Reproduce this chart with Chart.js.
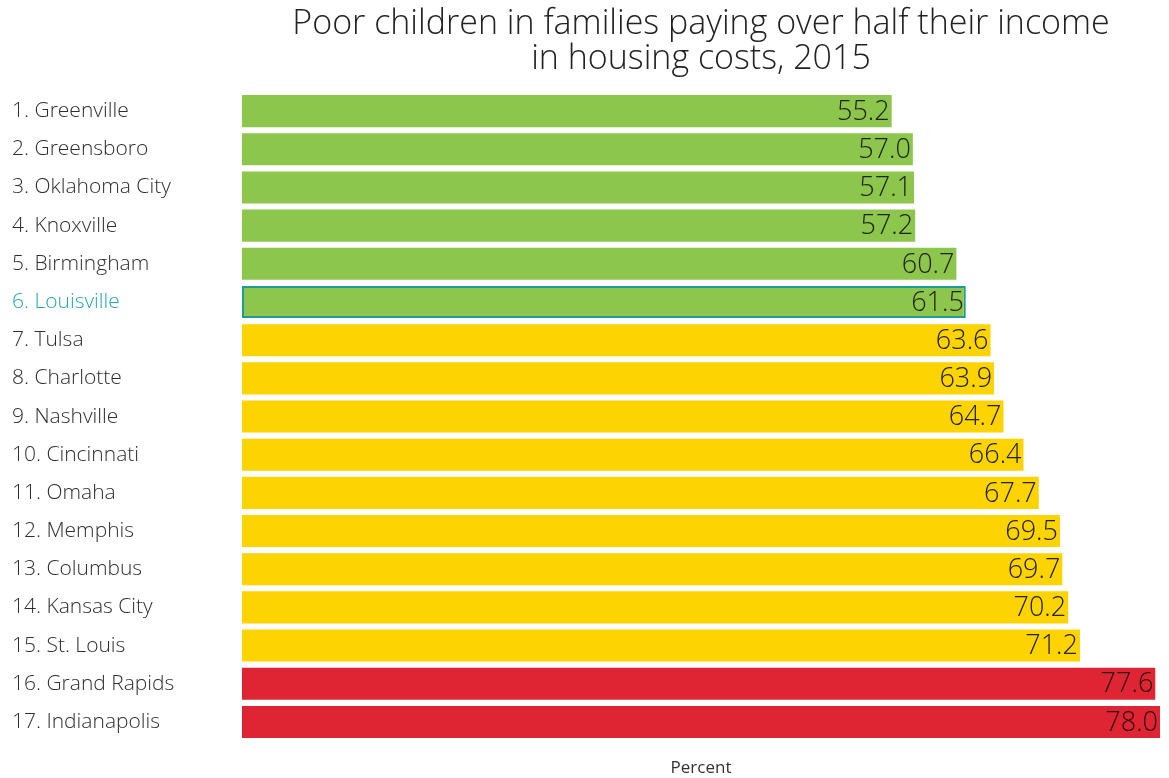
<!DOCTYPE html>
<html>
<head>
<meta charset="utf-8">
<title>Poor children housing costs</title>
<script src="https://cdn.jsdelivr.net/npm/chart.js@4/dist/chart.umd.min.js"></script>
<style>
  html, body { margin: 0; padding: 0; background: #fff; }
  #wrap { width: 1169px; height: 778px; position: relative; }
</style>
</head>
<body>
<div id="wrap"><canvas id="housingChart"></canvas></div>
<script>
// city ranking and share of poor children (percent)
const cities = [
  '1. Greenville', '2. Greensboro', '3. Oklahoma City', '4. Knoxville',
  '5. Birmingham', '6. Louisville', '7. Tulsa', '8. Charlotte',
  '9. Nashville', '10. Cincinnati', '11. Omaha', '12. Memphis',
  '13. Columbus', '14. Kansas City', '15. St. Louis', '16. Grand Rapids',
  '17. Indianapolis'
];
const percents = [55.2, 57.0, 57.1, 57.2, 60.7, 61.5, 63.6, 63.9, 64.7, 66.4, 67.7, 69.5, 69.7, 70.2, 71.2, 77.6, 78.0];
// tier of each city: g = green, y = yellow, r = red
const tiers = ['g', 'g', 'g', 'g', 'g', 'g', 'y', 'y', 'y', 'y', 'y', 'y', 'y', 'y', 'y', 'r', 'r'];
const highlightCity = '6. Louisville';

const tierColors = { g: '#8dc64c', y: '#fdd300', r: '#df2433' };
const teal = '#27a7b0';
const fontFamily = '"Open Sans", Lato, sans-serif';

// value labels drawn inside the bar end
const valueLabels = {
  id: 'valueLabels',
  afterDatasetsDraw(chart) {
    const ctx = chart.ctx;
    const meta = chart.getDatasetMeta(0);
    ctx.save();
    ctx.font = '300 27px ' + fontFamily;
    ctx.textAlign = 'right';
    ctx.textBaseline = 'middle';
    meta.data.forEach((bar, i) => {
      ctx.fillStyle = tiers[i] === 'r' ? '#2b0b0d' : '#222214';
      ctx.fillText(percents[i].toFixed(1), bar.x - 2, bar.y + 1);
    });
    ctx.restore();
  }
};

const ctx = document.getElementById('housingChart').getContext('2d');
const housingChart = new Chart(ctx, {
  type: 'bar',
  data: {
    labels: cities,
    datasets: [{
      data: percents,
      backgroundColor: tiers.map(t => tierColors[t]),
      borderColor: cities.map(c => c === highlightCity ? '#1f9a9a' : 'rgba(0,0,0,0)'),
      borderWidth: cities.map(c => c === highlightCity ? 2 : 0),
      borderSkipped: false,
      barPercentage: 0.84,
      categoryPercentage: 1.0
    }]
  },
  plugins: [valueLabels],
  options: {
    indexAxis: 'y',
    responsive: true,
    maintainAspectRatio: false,
    animation: false,
    layout: { padding: { left: 12, right: 9, top: 0, bottom: 0 } },
    plugins: {
      legend: { display: false },
      tooltip: { enabled: false },
      title: {
        display: true,
        fullSize: false,
        text: ['Poor children in families paying over half their income', 'in housing costs, 2015'],
        color: '#222',
        font: { family: fontFamily, size: 34, weight: '300', lineHeight: 1.03 },
        padding: { top: 7, bottom: 15 }
      }
    },
    scales: {
      x: {
        min: 0,
        max: 78,
        grid: { display: false },
        border: { display: false },
        ticks: { display: false },
        afterFit(scale) { scale.height = 37; },
        title: {
          display: true,
          text: 'Percent',
          color: '#333',
          font: { family: fontFamily, size: 17 },
          padding: { top: 0, bottom: 0 }
        }
      },
      y: {
        grid: { display: false },
        border: { display: false },
        afterFit(scale) { scale.width = 230; },
        ticks: {
          crossAlign: 'far',
          color: c => cities[c.index] === highlightCity ? teal : '#2e2e2e',
          font: { family: fontFamily, size: 21, weight: '300' }
        }
      }
    }
  }
});
</script>
</body>
</html>
